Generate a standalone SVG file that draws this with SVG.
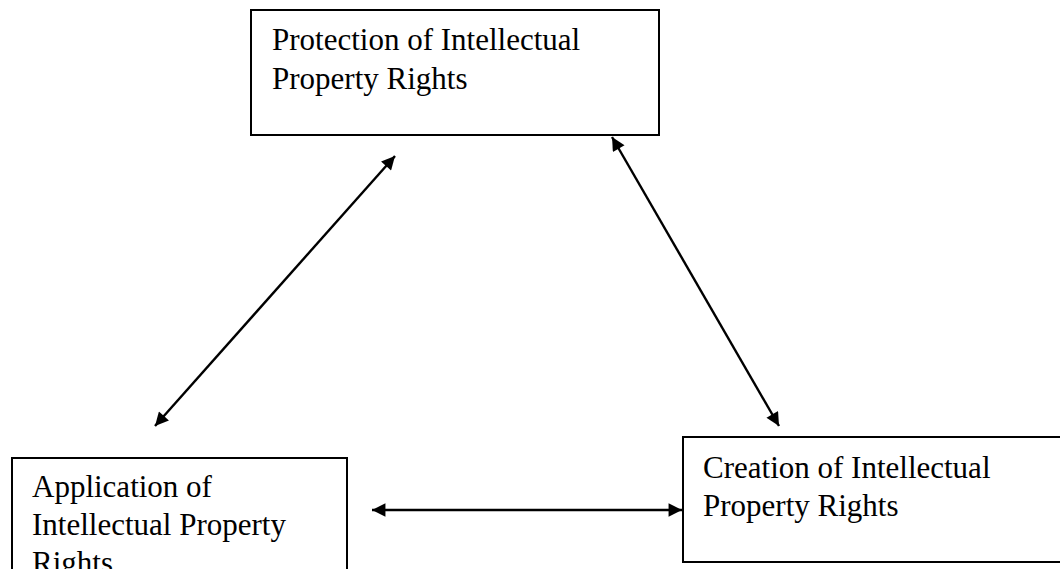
<svg xmlns="http://www.w3.org/2000/svg" width="1060" height="569" viewBox="0 0 1060 569">
<style>
.box{fill:#fff;stroke:#000;stroke-width:2}
.t{font-family:"Liberation Serif","Times New Roman",serif;font-size:31px;fill:#000}
.c{stroke:#000;stroke-width:2.4;fill:none}
</style>
<defs>
<marker id="ah" viewBox="0 0 10 10" refX="10" refY="5" markerWidth="6.8" markerHeight="5.6" markerUnits="strokeWidth" orient="auto-start-reverse">
<path d="M0,0 L10,5 L0,10 z" fill="#000"/>
</marker>
</defs>
<rect width="1060" height="569" fill="#fff"/>
<g id="protection">
<rect class="box" x="251" y="10" width="408" height="125"/>
<text class="t" x="272" y="50">Protection of Intellectual</text>
<text class="t" x="272" y="89">Property Rights</text>
</g>
<g id="application">
<rect class="box" x="12" y="458" width="335" height="130"/>
<text class="t" x="32" y="497">Application of</text>
<text class="t" x="32" y="535">Intellectual Property</text>
<text class="t" x="32" y="573">Rights</text>
</g>
<g id="creation">
<rect class="box" x="683" y="437" width="400" height="125"/>
<text class="t" x="703" y="478">Creation of Intellectual</text>
<text class="t" x="703" y="516">Property Rights</text>
</g>
<g id="connectors">
<line class="c" x1="155" y1="426" x2="395" y2="156" marker-start="url(#ah)" marker-end="url(#ah)"/>
<line class="c" x1="612" y1="137" x2="779" y2="426" marker-start="url(#ah)" marker-end="url(#ah)"/>
<line class="c" x1="372" y1="510" x2="682" y2="510" marker-start="url(#ah)" marker-end="url(#ah)"/>
</g>
</svg>
